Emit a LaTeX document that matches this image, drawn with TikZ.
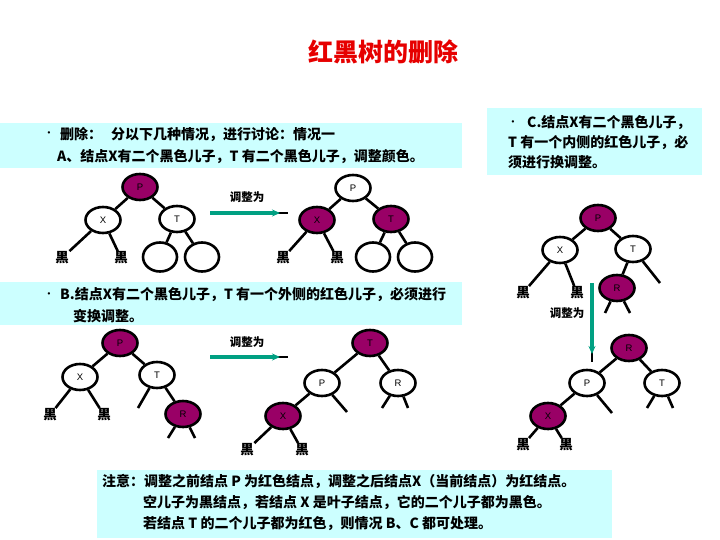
\documentclass[tikz,border=0pt]{standalone}
\usepackage{fontspec}
\setmainfont{Liberation Sans}
\newfontfamily\cjk{Noto Sans CJK SC}
\usetikzlibrary{shapes.geometric,arrows.meta}
\definecolor{rbred}{RGB}{153,0,102}
\definecolor{boxcyan}{RGB}{204,255,255}
\definecolor{arrteal}{RGB}{0,160,130}
\definecolor{titlered}{RGB}{230,0,0}
\tikzset{
  nd/.style={ellipse, draw=black, line width=2.6pt, minimum width=35pt, minimum height=26pt, inner sep=0pt, font=\fontsize{9.5}{9.5}\selectfont},
  rn/.style={nd, fill=rbred},
  wn/.style={nd, fill=white},
  en/.style={ellipse, draw=black, line width=2.6pt, fill=white, minimum width=34pt, minimum height=29pt, inner sep=0pt},
  blk/.style={font=\cjk\bfseries\fontsize{13.5}{13.5}\selectfont, inner sep=0.5pt},
  edg/.style={line width=2.6pt, draw=black},
  bx/.style={fill=boxcyan},
  txt/.style={anchor=west, inner sep=0pt, font=\cjk\bfseries\fontsize{14}{14}\selectfont},
  bul/.style={inner sep=0pt, font=\fontsize{8}{8}\selectfont\bfseries},
  lbl/.style={inner sep=0pt, font=\cjk\bfseries\fontsize{11.5}{11.5}\selectfont},
  arrbody/.style={line width=3.2pt, draw=arrteal, -{Stealth[length=8pt,width=7pt]}},
  arrtail/.style={line width=1.2pt, draw=black}
}
\begin{document}
\begin{tikzpicture}[x=1pt,y=-1pt]
\useasboundingbox (0,0) rectangle (720,540);
\fill[white] (0,0) rectangle (720,540);

% title
\node[inner sep=0pt, text=titlered, font=\cjk\bfseries\fontsize{25}{25}\selectfont] (title) at (383,52) {红黑树的删除};

% boxes
\fill[bx] (0,123) rectangle (462,168);
\fill[bx] (487,108) rectangle (702,175);
\fill[bx] (0,282) rectangle (462,325);
\fill[bx] (97,470) rectangle (612,538);

% box A text
\node[bul] (ba) at (49,134) {•};
\node[txt] (ta1) at (60,134) {删除：\hspace{9pt}分以下几种情况，进行讨论：情况一};
\node[txt] (ta2) at (57,157) {A、结点X有二个黑色儿子，T 有二个黑色儿子，调整颜色。};

% box C text
\node[bul] (bc) at (513,123) {•};
\node[txt] (tc1) at (527,123) {C.结点X有二个黑色儿子，};
\node[txt] (tc2) at (508,143) {T 有一个内侧的红色儿子，必};
\node[txt] (tc3) at (508,162) {须进行换调整。};

% box B text
\node[bul] (bb) at (49,295) {•};
\node[txt] (tb1) at (60,295) {B.结点X有二个黑色儿子，T 有一个外侧的红色儿子，必须进行};
\node[txt] (tb2) at (73,316) {变换调整。};

% bottom text
\node[txt] (tn1) at (102,481) {注意：调整之前结点 P 为红色结点，调整之后结点X（当前结点）为红结点。};
\node[txt] (tn2) at (143,503) {空儿子为黑结点，若结点 X 是叶子结点，它的二个儿子都为黑色。};
\node[txt] (tn3) at (143,524) {若结点 T 的二个儿子都为红色，则情况 B、C 都可处理。};

% ===== Tree A1 =====
\node[rn] (a1p) at (140,187) {P};
\node[wn] (a1x) at (103,220) {X};
\node[wn] (a1t) at (177,219) {T};
\node[blk] (a1l1) at (62,258) {黑};
\node[blk] (a1l2) at (121,258) {黑};
\node[en] (a1c1) at (160,257) {};
\node[en] (a1c2) at (202,257) {};
\draw[edg] (a1p) -- (a1x);
\draw[edg] (a1p) -- (a1t);
\draw[edg] (a1x) -- (a1l1);
\draw[edg] (a1x) -- (a1l2);
\draw[edg] (a1t) -- (a1c1);
\draw[edg] (a1t) -- (a1c2);

% arrow A
\node[lbl] (la) at (247,197) {调整为};
\coordinate (aas) at (210,213);
\coordinate (aam) at (280,213);
\coordinate (aae) at (288,213);
\draw[arrtail] (aas) -- (aae);
\draw[arrbody] (aas) -- (aam);

% ===== Tree A2 =====
\node[wn] (a2p) at (353,188) {P};
\node[rn] (a2x) at (317,220) {X};
\node[rn] (a2t) at (391,219) {T};
\node[blk] (a2l1) at (283,258) {黑};
\node[blk] (a2l2) at (337,258) {黑};
\node[en] (a2c1) at (373,257) {};
\node[en] (a2c2) at (415,257) {};
\draw[edg] (a2p) -- (a2x);
\draw[edg] (a2p) -- (a2t);
\draw[edg] (a2x) -- (a2l1);
\draw[edg] (a2x) -- (a2l2);
\draw[edg] (a2t) -- (a2c1);
\draw[edg] (a2t) -- (a2c2);

% ===== Tree B1 =====
\node[rn] (b1p) at (120,343) {P};
\node[wn] (b1x) at (80,377) {X};
\node[wn] (b1t) at (157,375) {T};
\node[rn] (b1r) at (183,414) {R};
\node[blk] (b1l1) at (50,415) {黑};
\node[blk] (b1l2) at (104,415) {黑};
\coordinate (b1tl) at (138,408);
\coordinate (b1r1) at (168,438);
\coordinate (b1r2) at (195,438);
\draw[edg] (b1p) -- (b1x);
\draw[edg] (b1p) -- (b1t);
\draw[edg] (b1x) -- (b1l1);
\draw[edg] (b1x) -- (b1l2);
\draw[edg] (b1t) -- (b1tl);
\draw[edg] (b1t) -- (b1r);
\draw[edg] (b1r) -- (b1r1);
\draw[edg] (b1r) -- (b1r2);

% arrow B
\node[lbl] (lb) at (247,342) {调整为};
\coordinate (abs) at (210,357);
\coordinate (abm) at (280,357);
\coordinate (abe) at (288,357);
\draw[arrtail] (abs) -- (abe);
\draw[arrbody] (abs) -- (abm);

% ===== Tree B2 =====
\node[rn] (b2t) at (370,343) {T};
\node[wn] (b2p) at (322,383) {P};
\node[wn] (b2r) at (398,383) {R};
\node[rn] (b2x) at (283,416) {X};
\node[blk] (b2l1) at (247,450) {黑};
\node[blk] (b2l2) at (302,450) {黑};
\coordinate (b2pr) at (347,412);
\coordinate (b2r1) at (382,408);
\coordinate (b2r2) at (408,408);
\draw[edg] (b2t) -- (b2p);
\draw[edg] (b2t) -- (b2r);
\draw[edg] (b2p) -- (b2x);
\draw[edg] (b2p) -- (b2pr);
\draw[edg] (b2r) -- (b2r1);
\draw[edg] (b2r) -- (b2r2);
\draw[edg] (b2x) -- (b2l1);
\draw[edg] (b2x) -- (b2l2);

% ===== Tree C1 =====
\node[rn] (c1p) at (598,218) {P};
\node[wn] (c1x) at (560,250) {X};
\node[wn] (c1t) at (633,249) {T};
\node[rn] (c1r) at (617,288) {R};
\node[blk] (c1l1) at (523,293) {黑};
\node[blk] (c1l2) at (577,293) {黑};
\coordinate (c1tr) at (660,283);
\coordinate (c1r1) at (605,313);
\coordinate (c1r2) at (630,313);
\draw[edg] (c1p) -- (c1x);
\draw[edg] (c1p) -- (c1t);
\draw[edg] (c1x) -- (c1l1);
\draw[edg] (c1x) -- (c1l2);
\draw[edg] (c1t) -- (c1r);
\draw[edg] (c1t) -- (c1tr);
\draw[edg] (c1r) -- (c1r1);
\draw[edg] (c1r) -- (c1r2);

% arrow C (vertical)
\node[lbl] (lc) at (567,313) {调整为};
\coordinate (acs) at (592,283);
\coordinate (acm) at (592,354);
\coordinate (ace) at (592,362);
\draw[arrtail] (acs) -- (ace);
\draw[arrbody] (acs) -- (acm);

% ===== Tree C2 =====
\node[rn] (c2r) at (629,348) {R};
\node[wn] (c2p) at (587,383) {P};
\node[wn] (c2t) at (662,383) {T};
\node[rn] (c2x) at (548,416) {X};
\node[blk] (c2l1) at (523,445) {黑};
\node[blk] (c2l2) at (566,445) {黑};
\coordinate (c2pr) at (612,413);
\coordinate (c2t1) at (647,408);
\coordinate (c2t2) at (673,408);
\draw[edg] (c2r) -- (c2p);
\draw[edg] (c2r) -- (c2t);
\draw[edg] (c2p) -- (c2x);
\draw[edg] (c2p) -- (c2pr);
\draw[edg] (c2t) -- (c2t1);
\draw[edg] (c2t) -- (c2t2);
\draw[edg] (c2x) -- (c2l1);
\draw[edg] (c2x) -- (c2l2);
\end{tikzpicture}
\end{document}
